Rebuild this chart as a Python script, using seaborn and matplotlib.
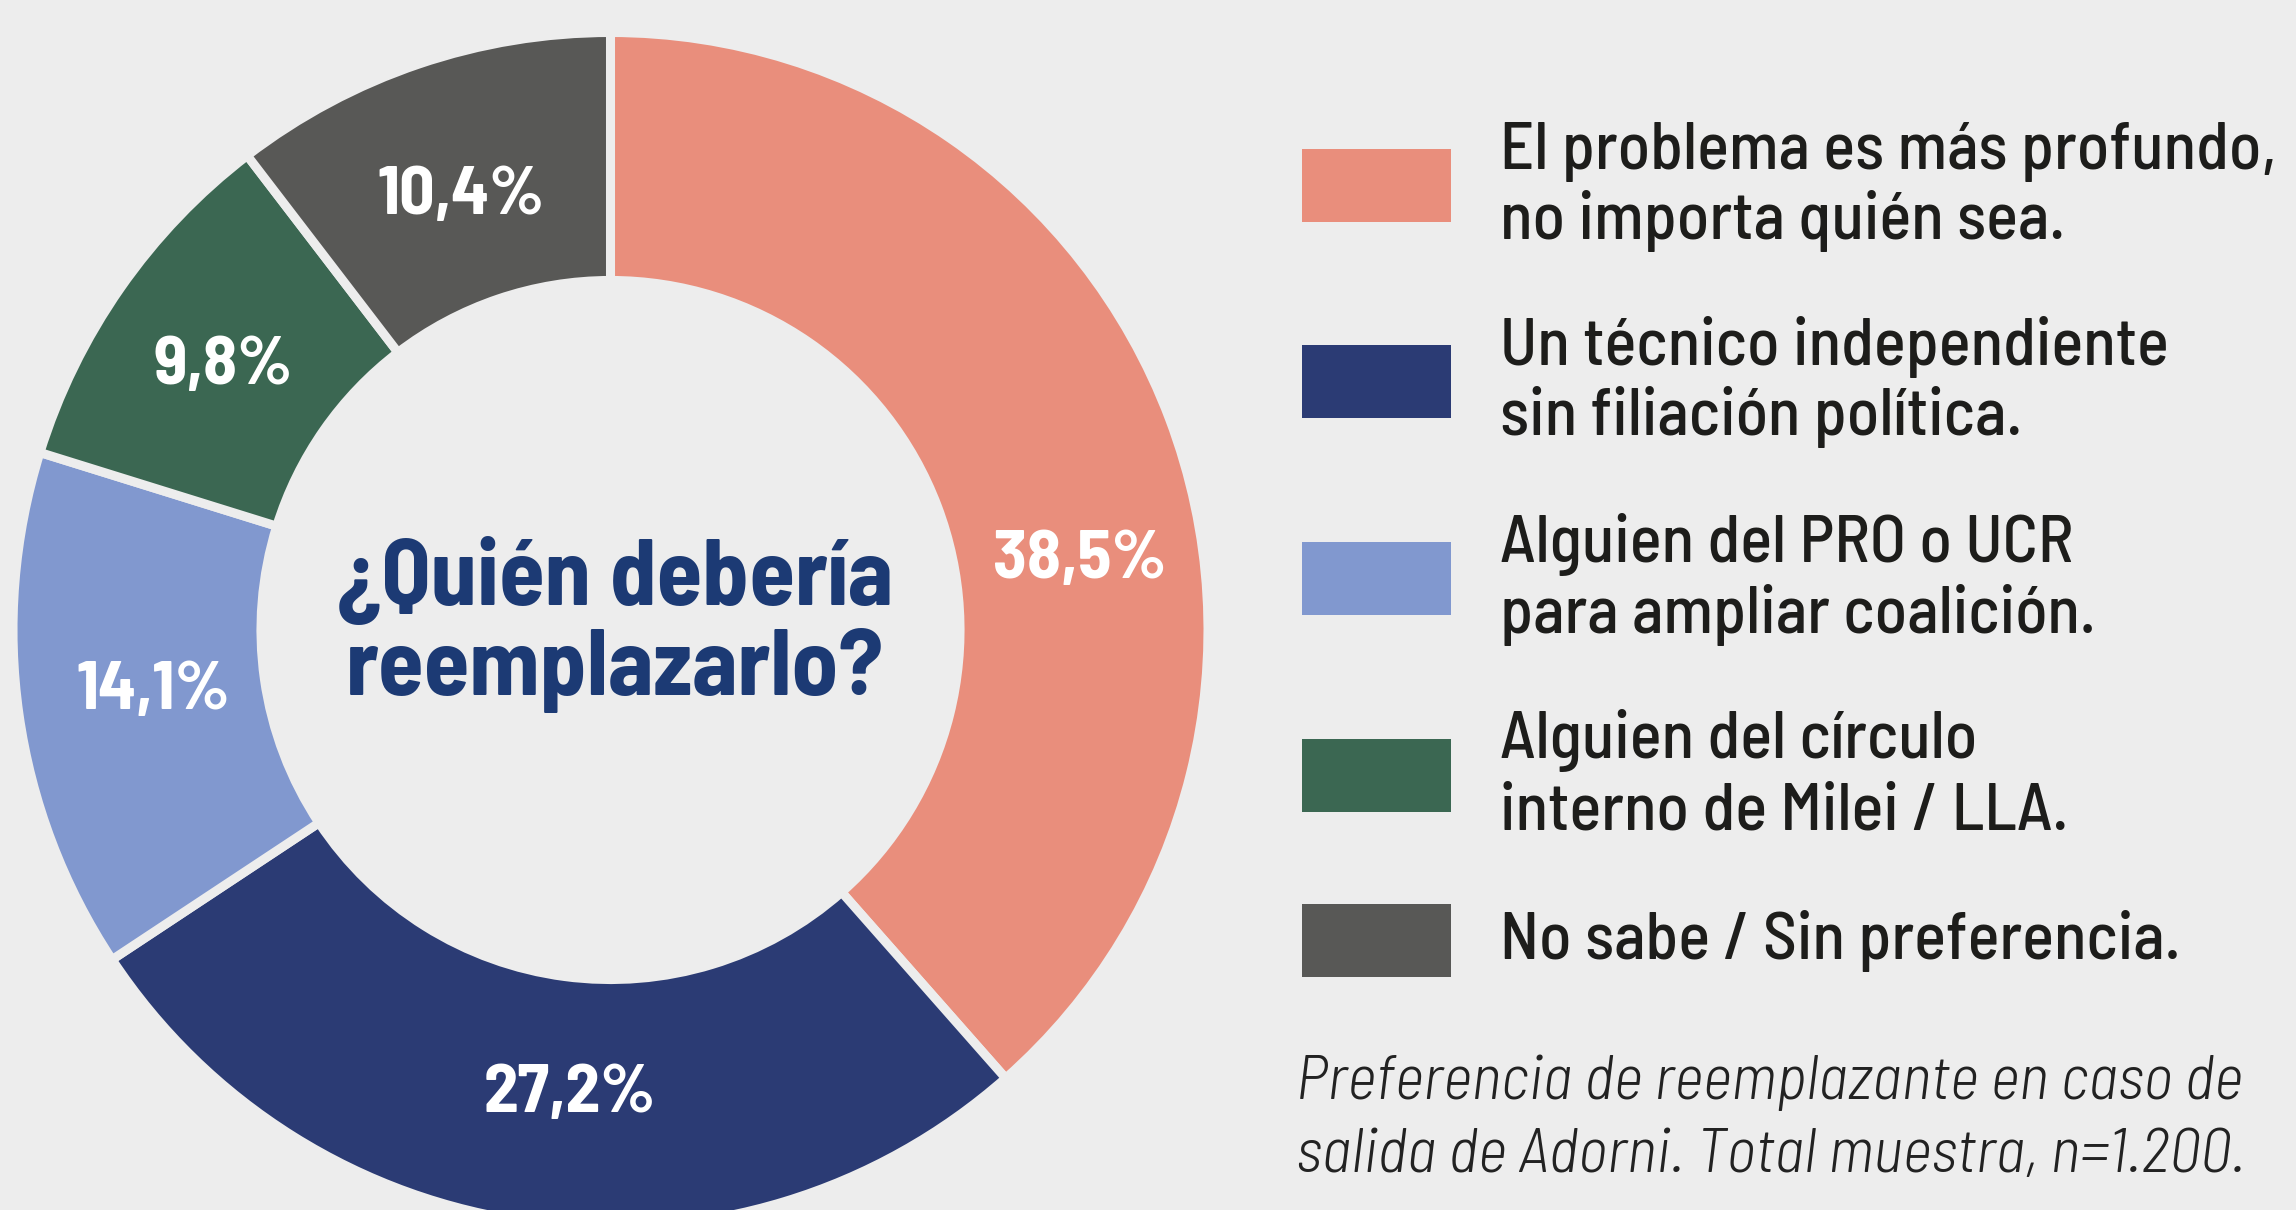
import matplotlib
matplotlib.use("Agg")
import numpy as np
import seaborn as sns
import matplotlib.pyplot as plt
from matplotlib import font_manager
from matplotlib.patches import Rectangle

# datos
categorias = [
    "El problema es más profundo,\nno importa quién sea.",
    "Un técnico independiente\nsin filiación política.",
    "Alguien del PRO o UCR\npara ampliar coalición.",
    "Alguien del círculo\ninterno de Milei / LLA.",
    "No sabe / Sin preferencia.",
]
valores = [38.5, 27.2, 14.1, 9.8, 10.4]
colores = ["#E98E7C", "#2B3B74", "#8198CF", "#3B6752", "#585856"]
titulo_centro = "¿Quién debería\nreemplazarlo?"
nota = "Preferencia de reemplazante en caso de\nsalida de Adorni. Total muestra, n=1.200."

bg = "#EDEDED"
sns.set_theme(style="white", rc={"figure.facecolor": bg, "axes.facecolor": bg,
                                 "savefig.facecolor": bg})

# fuente condensada tipo DIN si existe, si no DejaVu condensada
disponibles = {f.name for f in font_manager.fontManager.ttflist}
if "Barlow Semi Condensed" in disponibles:
    fam, k, stretch = ["Barlow Semi Condensed", "DejaVu Sans"], 1.0, "normal"
else:
    fam, k, stretch = ["DejaVu Sans"], 0.86, "condensed"
plt.rcParams["font.family"] = fam
plt.rcParams["font.stretch"] = stretch

W, H = 2296, 1210
fig = plt.figure(figsize=(W / 100, H / 100), dpi=100)

# dona
cx, cy, R = 610.5, 630, 597.5
ax = fig.add_axes([(cx - R) / W, (H - cy - R) / H, 2 * R / W, 2 * R / H])
pal = sns.color_palette(colores)
wedges, _, autotexts = ax.pie(
    valores, colors=pal, startangle=90, counterclock=False, radius=1,
    wedgeprops=dict(width=0.415, edgecolor=bg, linewidth=6.5),
    autopct=lambda p: f"{p:.1f}%".replace(".", ","), pctdistance=0.78,
    textprops=dict(color="white", fontsize=50 * k, fontweight="bold"))

# ajuste fino de las etiquetas (grados, radio) como en el original
desvio = [(-11.5, 0.795), (2.5, 0.77), (-1.2, 0.77), (0, 0.79), (0, 0.777)]
for w, t, (d, r) in zip(wedges, autotexts, desvio):
    a = np.deg2rad((w.theta1 + w.theta2) / 2 + d)
    t.set_position((r * np.cos(a), r * np.sin(a)))
    t.set_va("center_baseline")
ax.set_xlim(-1, 1)
ax.set_ylim(-1, 1)
ax.axis("off")

# capa de texto en píxeles
lax = fig.add_axes([0, 0, 1, 1])
lax.set_xlim(0, W)
lax.set_ylim(H, 0)
lax.axis("off")
lax.patch.set_alpha(0)

for i, linea in enumerate(titulo_centro.split("\n")):
    lax.text(615, 605 + i * 90, linea, ha="center", va="baseline",
             fontsize=67 * k, fontweight="bold", color="#1C3A74")

# leyenda
centros_y = [185, 381, 578, 775, 940]
for cat, col, yc in zip(categorias, colores, centros_y):
    lax.add_patch(Rectangle((1302, yc - 36.5), 149, 73, color=col, lw=0))
    lineas = cat.split("\n")
    n = len(lineas)
    for j, linea in enumerate(lineas):
        yb = yc + 19 + (j - (n - 1) / 2) * 71
        lax.text(1500, yb, linea, ha="left", va="baseline",
                 fontsize=48 * k, fontweight=500, color="#1D1D1B")

for j, linea in enumerate(nota.split("\n")):
    lax.text(1296, 1099 + j * 73, linea, ha="left", va="baseline",
             fontsize=45.5 * k, fontstyle="italic", fontweight=300, color="#222222")

fig.savefig("out.png", dpi=100, facecolor=bg)
